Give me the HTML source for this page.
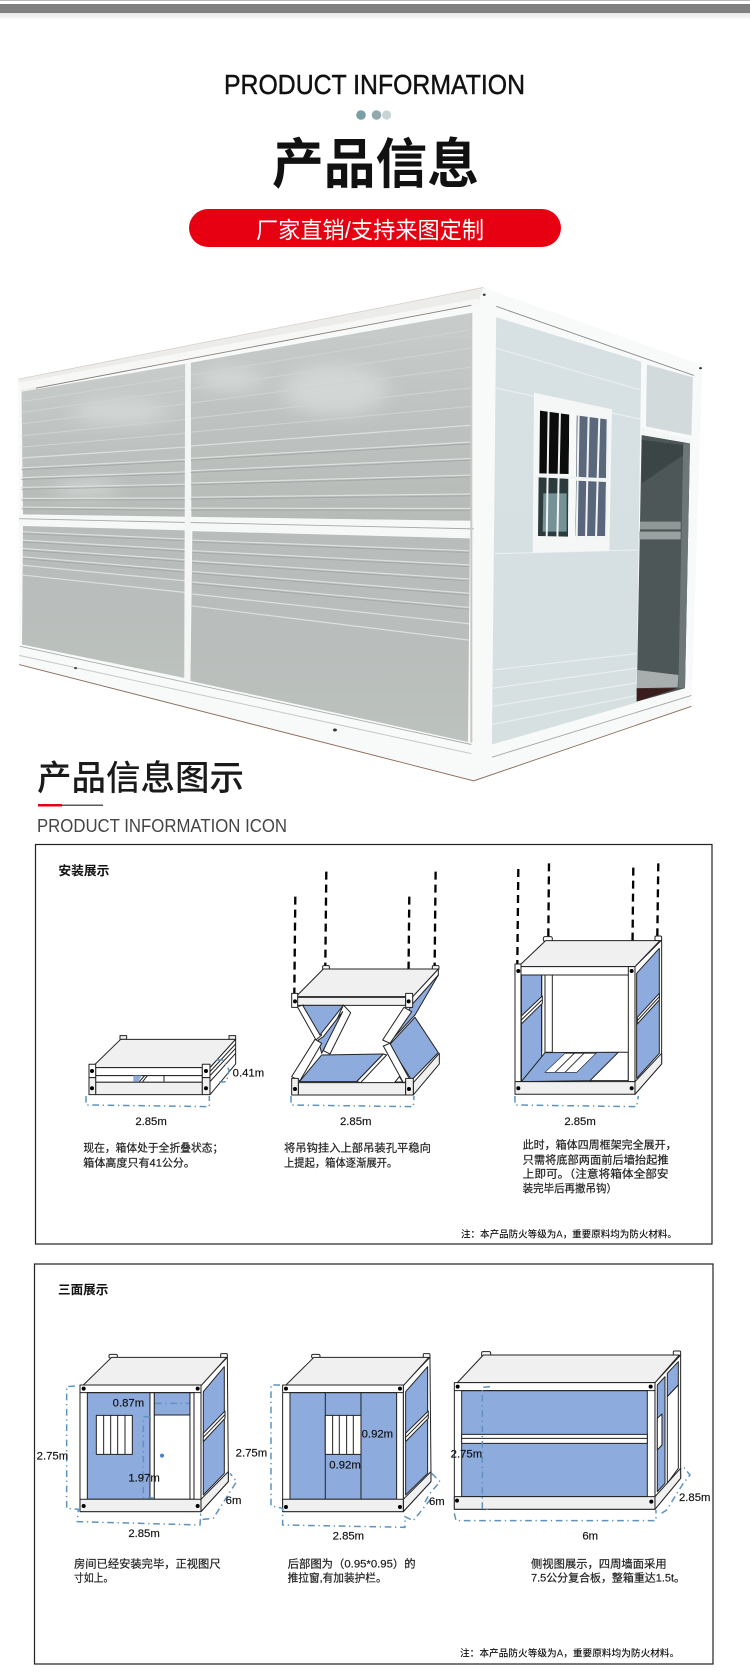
<!DOCTYPE html>
<html lang="zh">
<head>
<meta charset="utf-8">
<title>产品信息</title>
<style>
html,body{margin:0;padding:0;background:#fff}
svg{display:block}
text{font-family:"Liberation Sans","Noto Sans CJK SC",sans-serif;fill:#111}
.s{stroke:#222;stroke-width:3;stroke-linejoin:round}
.w{fill:#fff}.g{fill:#f0f0f0}.b{fill:#8eabdd}
.dim{fill:none;stroke:#5f93bd;stroke-width:4.5;stroke-dasharray:20 11 4 11}
.hang{fill:none;stroke:#000;stroke-width:7;stroke-dasharray:24 15}
.lb{font-size:34px;stroke:#111;stroke-width:.5px}
.cap{font-size:33px;fill:#222;stroke:#222;stroke-width:.6px}
.groove{fill:none;stroke:#dcdfdd;stroke-width:1.2;vector-effect:non-scaling-stroke}
.faint{fill:none;stroke:#d0d3d1;stroke-width:1;vector-effect:non-scaling-stroke}
.dark{fill:none;stroke:#a2a6a4;stroke-width:.8;vector-effect:non-scaling-stroke}
.groove2{fill:none;stroke:#eaf0f1;stroke-width:1.1;vector-effect:non-scaling-stroke}
</style>
</head>
<body>
<svg width="750" height="1675" viewBox="0 0 750 1675" xmlns="http://www.w3.org/2000/svg">
<defs>
<linearGradient id="sh" x1="0" y1="0" x2="0" y2="1"><stop offset="0" stop-color="#ccc"/><stop offset="1" stop-color="#fff"/></linearGradient>
<linearGradient id="pan" x1="0" y1="0" x2="0" y2="1"><stop offset="0" stop-color="#c8cccb"/><stop offset=".55" stop-color="#bdc1bf"/><stop offset="1" stop-color="#b7bbb8"/></linearGradient>
<linearGradient id="pan2" x1="0" y1="0" x2="0" y2="1"><stop offset="0" stop-color="#b8bcbb"/><stop offset=".55" stop-color="#b9bdbb"/><stop offset="1" stop-color="#bcc2bd"/></linearGradient>
<linearGradient id="rf" x1="0" y1="0" x2="0" y2="1"><stop offset="0" stop-color="#d7e0e3"/><stop offset="1" stop-color="#d6e0e1"/></linearGradient>
<filter id="bl"><feGaussianBlur stdDeviation="22"/></filter>
<clipPath id="upper"><polygon points="45,335 388,258 388,682 48,672"/><polygon points="398,255 985,118 985,690 400,680"/></clipPath>
</defs>

<rect x="0" y="0" width="750" height="1" fill="#b5b5b5"/>
<rect x="0" y="4" width="750" height="9" fill="#808080"/>
<rect x="0" y="13" width="750" height="7" fill="url(#sh)" opacity=".5"/>

<text x="224" y="94" font-size="28" textLength="301" lengthAdjust="spacingAndGlyphs" stroke="#111" stroke-width=".45">PRODUCT INFORMATION</text>
<circle cx="361" cy="115" r="4.8" fill="#7a9ea5"/>
<circle cx="376.5" cy="115" r="4.8" fill="#94a9ae"/>
<circle cx="386.6" cy="115" r="4.6" fill="#c8d5d6"/>
<text x="272" y="183" font-size="54" font-weight="700" textLength="207" lengthAdjust="spacingAndGlyphs">产品信息</text>
<rect x="189" y="209" width="372" height="38" rx="19" fill="#e60012"/>
<text x="256" y="238" font-size="23" style="fill:#fff" textLength="228" lengthAdjust="spacingAndGlyphs">厂家直销/支持来图定制</text>

<!-- building photo -->
<g transform="translate(0,270) scale(.4785,.3636)">
<polygon points="38,300 1010,48 1468,262 1445,1200 990,1405 40,1085" fill="#f8f9f9"/>
<polygon points="38,300 1010,48 1000,90 45,335" fill="#ecedeb"/>
<polygon points="38,310 1000,78 1000,96 45,330" fill="#f7f7f6"/>
<polyline points="75,325 985,97" fill="none" stroke="#85807c" stroke-width=".9" vector-effect="non-scaling-stroke"/>
<polyline points="38,300 1010,48" fill="none" stroke="#d8cfc8" stroke-width=".8" vector-effect="non-scaling-stroke"/>
<polygon points="45,335 388,258 388,682 48,672" fill="url(#pan)"/>
<polygon points="398,255 985,118 985,690 400,680" fill="url(#pan)"/>
<polygon points="48,704 388,716 386,1122 46,1030" fill="url(#pan2)"/>
<polygon points="402,718 982,738 978,1298 398,1130" fill="url(#pan2)"/>
<g clip-path="url(#upper)" filter="url(#bl)" fill="#dee2e0" opacity=".6">
<ellipse cx="700" cy="330" rx="110" ry="70"/><ellipse cx="250" cy="390" rx="100" ry="35"/><ellipse cx="480" cy="300" rx="70" ry="35"/><ellipse cx="180" cy="600" rx="70" ry="25"/>
</g>
<path class="faint" d="M398 289L985 164M398 327L985 215M398 366L985 267M398 408L985 324M398 446L985 375"/>
<path class="groove" d="M398 484L985 427M398 518L985 473M398 552L985 518M398 586L985 564M398 625L985 616M398 655L985 656"/>
<path class="dark" d="M398 523L985 478M398 557L985 523M398 591L985 569M398 630L985 621M398 660L985 661"/>
<path class="faint" d="M45 362L388 292M45 392L388 330M45 423L388 368M45 456L388 411M45 487L388 449"/>
<path class="groove" d="M45 517L388 487M45 544L388 521M45 571L388 555M45 598L388 589M45 628L388 627M45 652L388 656"/>
<path class="dark" d="M45 549L388 526M45 576L388 560M45 603L388 594M45 633L388 632M45 657L388 661"/>
<path class="groove" d="M402 743L980 772M402 772L980 811M402 800L980 850M402 829L980 889M402 858L980 928M402 891L980 973M402 924L980 1018"/>
<path class="dark" d="M402 748L980 777M402 777L980 816M402 805L980 855M402 834L980 894M402 863L980 933"/>
<path class="groove" d="M48 720L388 740M48 743L388 769M48 766L388 797M48 789L388 826M48 812L388 855M48 839L388 887"/>
<path class="dark" d="M48 725L388 745M48 748L388 774M48 771L388 802M48 794L388 831"/>
<polygon points="40,672 990,690 990,738 40,702" fill="#f6f7f7"/>
<polyline points="40,684 990,712" fill="none" stroke="#a6a8a7" stroke-width=".9" vector-effect="non-scaling-stroke"/>
<polygon points="387,258 399,255 398,1132 385,1125" fill="#f4f5f5"/>
<polyline points="985,118 985,1300" fill="none" stroke="#c9c9c4" stroke-width="2" vector-effect="non-scaling-stroke"/>
<polyline points="42,1035 985,1305" fill="none" stroke="#a9abab" stroke-width=".9" vector-effect="non-scaling-stroke"/>
<polyline points="40,1060 985,1330" fill="none" stroke="#c8c8c8" stroke-width="1" vector-effect="non-scaling-stroke"/>
<polyline points="40,1085 990,1405 1445,1200" fill="none" stroke="#8a6f5c" stroke-width=".9" vector-effect="non-scaling-stroke"/>
<polygon points="1037,130 1340,252 1330,1190 1028,1305" fill="url(#rf)"/>
<path class="groove2" d="M1037,215L1338,330M1037,325L1338,410M1034,780L1332,770M1030,1100L1332,1055M1030,1150L1332,1095M1028,1200L1332,1135M1028,1250L1332,1170"/>
<polyline points="1037,100 1450,290" fill="none" stroke="#8c8e8e" stroke-width=".9" vector-effect="non-scaling-stroke"/>
<polyline points="1028,1340 1445,1170" fill="none" stroke="#a5a7a7" stroke-width=".9" vector-effect="non-scaling-stroke"/>
<polygon points="1352,260 1448,295 1445,455 1350,430" fill="#d2dadc"/>
<circle cx="1012" cy="68" r="3" fill="#333"/>
<circle cx="1464" cy="270" r="3" fill="#333"/>
<circle cx="700" cy="1265" r="4" fill="#333"/>
<circle cx="158" cy="1095" r="3" fill="#444"/>
</g>
<g transform="translate(520,380) scale(.3333)">
<polygon points="42,38 276,88 268,512 38,518" fill="#f5f7f7"/>
<polygon points="60,92 148,104 146,282 58,280" fill="#0c0c0c"/>
<polygon points="56,292 145,296 144,470 54,468" fill="#2b3a3c"/>
<polygon points="70,340 140,340 140,455 68,455" fill="#8fb0b4" opacity=".75"/>
<polygon points="170,106 260,118 258,294 168,292" fill="#5b687c"/>
<polygon points="168,302 258,306 256,468 166,468" fill="#58657a"/>
<polygon points="148,96 170,100 166,480 144,480" fill="#f7f8f8"/>
<path d="M86,84L80,478M120,88L112,478M206,106L198,478M238,112L228,478M264,118L258,482M176,100L170,480" fill="none" stroke="#f2f4f4" stroke-width="6"/>
<path d="M55,287L262,300" fill="none" stroke="#f2f4f4" stroke-width="8"/>
<polygon points="365,165 510,190 495,925 350,965" fill="#4d5757"/>
<polygon points="365,180 490,195 490,225 365,310" fill="#3c4545"/>
<polygon points="360,425 482,425 482,448 360,448" fill="#8f9897"/>
<polygon points="358,455 482,455 482,478 358,478" fill="#9aa2a1"/>
<polygon points="490,190 510,190 495,925 475,925" fill="#6d7777"/>
<polygon points="352,870 475,885 473,922 350,925" fill="#a8aeae"/>
<polygon points="350,925 472,925 350,965" fill="#3b1d1d"/>
<polygon points="362,143 512,178 512,190 365,165" fill="#f4f6f6"/>
</g>

<text x="37" y="790" font-size="34.5" font-weight="500" textLength="207" lengthAdjust="spacingAndGlyphs" style="fill:#1a1a1a">产品信息图示</text>
<rect x="38" y="804" width="24" height="2.5" fill="#e60012"/>
<rect x="62" y="804.6" width="41" height="1.2" fill="#333"/>
<text x="37" y="832" font-size="18" textLength="250" lengthAdjust="spacingAndGlyphs" style="fill:#444">PRODUCT INFORMATION ICON</text>

<rect x="35.5" y="844.5" width="676.5" height="399.5" fill="#fff" stroke="#222" stroke-width="1.2"/>
<rect x="34.5" y="1264" width="678.5" height="400" fill="#fff" stroke="#222" stroke-width="1.2"/>

<!-- box 1: left -->
<g transform="translate(30,840) scale(.3333)">
<text x="85" y="105" font-size="38" font-weight="700" textLength="153" lengthAdjust="spacingAndGlyphs">安装展示</text>
<rect class="s g" x="270" y="587" width="20" height="11"/>
<rect class="s g" x="597" y="587" width="20" height="11"/>
<polygon class="s g" points="185,683 272,598 617,598 540,683"/>
<polygon class="s w" points="540,683 617,598 617,672 540,764"/>
<path class="s" fill="none" d="M540,707L617,625M540,725L617,640M540,695L617,612"/>
<rect class="s w" x="197" y="683" width="320" height="24"/>
<rect class="s w" x="197" y="707" width="320" height="20"/>
<rect class="s g" x="197" y="727" width="320" height="37"/>
<polygon class="b" points="310,707 335,707 325,725 310,725"/>
<path class="s" fill="none" d="M328,725L344,707M338,725L352,707M402,707V725"/>
<rect class="s w" x="177" y="673" width="20" height="40"/>
<rect class="s g" x="177" y="713" width="20" height="51"/>
<rect class="s w" x="517" y="673" width="23" height="40"/>
<rect class="s g" x="517" y="713" width="23" height="51"/>
<circle cx="186" cy="693" r="6" fill="#000"/><circle cx="186" cy="745" r="6" fill="#000"/>
<circle cx="528" cy="693" r="6" fill="#000"/><circle cx="528" cy="745" r="6" fill="#000"/>
<polyline class="dim" points="168,768 168,795 538,800 538,768"/>
<polyline class="dim" points="560,660 578,660 597,690 590,725 562,727"/>
<text class="lb" x="608" y="710">0.41m</text>
<text class="lb" x="316" y="855">2.85m</text>
<text class="cap" x="160" y="935" textLength="420" lengthAdjust="spacingAndGlyphs">现在，箱体处于全折叠状态；</text>
<text class="cap" x="160" y="979" textLength="335" lengthAdjust="spacingAndGlyphs">箱体高度只有41公分。</text>
<text class="lb" x="930" y="855">2.85m</text>
<text class="cap" x="762" y="935" textLength="441" lengthAdjust="spacingAndGlyphs">将吊钩挂入上部吊装孔平稳向</text>
<text class="cap" x="762" y="979" textLength="340" lengthAdjust="spacingAndGlyphs">上提起，箱体逐渐展开。</text>
<path class="hang" d="M796,170L793,465M889,95L886,378M1138,170L1135,465M1217,95L1214,378"/>
</g>

<!-- box 1: middle scissor -->
<g transform="translate(280,960) scale(.3333)">
<rect class="s w" x="128" y="17" width="20" height="12" rx="3"/>
<rect class="s w" x="457" y="17" width="20" height="12" rx="3"/>
<polygon class="s w" points="398,110 475,27 475,46 398,136"/>
<polygon class="s g" points="48,110 130,27 475,27 398,110"/>
<rect class="s g" x="52" y="112" width="325" height="24"/>
<polygon class="s w" points="52,140 70,135 125,225 108,240"/>
<polygon class="s b" points="68,136 190,136 120,225"/>
<polygon class="s w" points="190,135 212,158 150,282 130,272"/>
<polygon class="s b" points="188,155 130,230 115,240 125,280"/>
<polygon class="s w" points="105,238 125,250 60,362 35,350"/>
<polygon class="s b" points="125,285 310,282 230,365 58,365"/>
<polygon class="s w" points="310,282 320,285 242,368 230,365"/>
<rect class="s g" x="55" y="368" width="322" height="37"/>
<polygon class="s w" points="345,366 358,350 368,366"/>
<polygon class="s b" points="395,135 475,45 405,165 335,240"/>
<polygon class="s w" points="372,142 395,155 330,250 308,240"/>
<polygon class="s b" points="405,172 475,278 395,360 328,255"/>
<polygon class="s w" points="310,258 330,250 390,360 370,368"/>
<polygon class="s g" points="400,368 478,280 478,312 400,405"/>
<rect class="s w" x="35" y="100" width="18" height="42"/>
<rect class="s w" x="377" y="100" width="21" height="42"/>
<rect class="s g" x="35" y="355" width="20" height="50"/>
<rect class="s g" x="377" y="355" width="23" height="50"/>
<circle cx="45" cy="124" r="6" fill="#000"/><circle cx="386" cy="124" r="6" fill="#000"/>
<circle cx="45" cy="387" r="6" fill="#000"/><circle cx="387" cy="387" r="6" fill="#000"/>
<polyline class="dim" points="33,408 33,435 400,440 402,408"/>
</g>

<!-- box 1: right -->
<g transform="translate(380,840) scale(.3333)">
<path class="hang" d="M415,87L412,372M507,70L505,290M760,83L757,372M835,70L832,290"/>
<rect class="s w" x="490" y="290" width="27" height="14" rx="5"/>
<rect class="s w" x="825" y="288" width="20" height="14" rx="4"/>
<polygon class="s w" points="765,380 845,300 845,672 765,763"/>
<polygon class="s b" points="770,400 838,325 838,640 770,715"/>
<polygon class="s w" points="772,532 838,460 838,480 772,552"/>
<path class="s" fill="none" d="M772,542L838,470"/>
<polygon class="s g" points="765,725 845,640 845,672 765,763"/>
<polygon class="s g" points="415,380 497,302 840,302 765,380"/>
<rect class="s b" x="424" y="405" width="61" height="320" stroke="none"/>
<polygon class="w" points="424,405 424,725 400,725 400,405"/>
<rect class="s w" x="495" y="405" width="22" height="232"/>
<path class="s" fill="none" d="M485,405V635M424,405V725"/>
<polygon class="s w" points="424,528 487,468 487,490 424,552"/>
<path class="s" fill="none" d="M424,540L487,479"/>
<polygon class="s b" points="424,725 495,638 715,637 635,722"/>
<polygon class="w" points="495,697 555,640 648,640 590,697" stroke="#222" stroke-width="2"/>
<path d="M525,697L583,640M555,697L612,640" stroke="#333" stroke-width="3" fill="none"/>
<polygon class="s w" points="630,722 715,637 745,637 745,722"/>
<rect class="s w" x="405" y="380" width="360" height="25"/>
<rect class="s w" x="405" y="372" width="18" height="353"/>
<rect class="s w" x="745" y="380" width="20" height="345"/>
<rect class="s g" x="405" y="725" width="360" height="38"/>
<circle cx="415" cy="393" r="6" fill="#000"/><circle cx="755" cy="393" r="6" fill="#000"/>
<circle cx="415" cy="745" r="6" fill="#000"/><circle cx="755" cy="745" r="6" fill="#000"/>
<polyline class="dim" points="405,768 405,795 770,800 775,768"/>
<text class="lb" x="553" y="855">2.85m</text>
<text class="cap" x="428" y="926" textLength="462" lengthAdjust="spacingAndGlyphs">此时，箱体四周框架完全展开，</text>
<text class="cap" x="428" y="970" textLength="438" lengthAdjust="spacingAndGlyphs">只需将底部两面前后墙抬起推</text>
<text class="cap" x="428" y="1013" textLength="438" lengthAdjust="spacingAndGlyphs">上即可。（注意将箱体全部安</text>
<text class="cap" x="428" y="1056" textLength="283" lengthAdjust="spacingAndGlyphs">装完毕后再撤吊钩）</text>
<text x="243" y="1192" font-size="29" font-weight="500" textLength="648" lengthAdjust="spacingAndGlyphs">注：本产品防火等级为A，重要原料均为防火材料。</text>
</g>

<!-- box 2: A + B -->
<g transform="translate(30,1260) scale(.3333)">
<text x="84" y="102" font-size="38" font-weight="700" textLength="151" lengthAdjust="spacingAndGlyphs">三面展示</text>

<rect class="s w" x="237" y="283" width="25" height="11" rx="4"/>
<rect class="s w" x="572" y="281" width="20" height="12" rx="3"/>
<polygon class="s w" points="513,375 592,292 595,635 595,665 513,755"/>
<polygon class="s b" points="520,395 583,320 583,640 520,705"/>
<polygon class="s w" points="520,520 585,453 585,475 520,545"/>
<path class="s" fill="none" d="M520,532L585,464"/>
<polygon class="s g" points="513,718 595,635 595,665 513,755"/>
<polygon class="s g" points="160,375 245,292 590,292 515,375"/>
<rect class="s w" x="150" y="375" width="363" height="380"/>
<rect class="s b" x="172" y="398" width="188" height="320"/>
<rect class="s w" x="360" y="398" width="13" height="320"/>
<rect class="s b" x="373" y="398" width="107" height="67"/>
<rect class="s w" x="373" y="465" width="107" height="253"/>
<rect class="s w" x="480" y="398" width="12" height="320"/>
<path class="s" fill="none" d="M492,398V718"/>
<rect class="s g" x="150" y="718" width="363" height="37"/>
<path class="s" fill="none" d="M150,398H513"/>
<rect class="s w" x="199" y="466" width="108" height="117"/>
<path class="s" fill="none" d="M221,466V583M242,466V583M263,466V583M285,466V583"/>
<circle cx="396" cy="587" r="6" fill="#3e86d0"/>
<circle cx="161" cy="386" r="6" fill="#000"/><circle cx="503" cy="386" r="6" fill="#000"/>
<circle cx="161" cy="738" r="6" fill="#000"/><circle cx="503" cy="738" r="6" fill="#000"/>
<polyline class="dim" points="135,378 110,380 110,745 145,748 142,785 510,795 512,765 520,778 550,775 610,680 620,665 600,640"/>
<polyline class="dim" points="375,430 478,430"/>
<polyline class="dim" points="360,470 340,470 340,712 370,714"/>
<text class="lb" x="248" y="440">0.87m</text>
<text class="lb" x="20" y="598">2.75m</text>
<text class="lb" x="295" y="664">1.97m</text>
<text class="lb" x="587" y="732">6m</text>
<text class="lb" x="295" y="831">2.85m</text>
<text class="cap" x="132" y="922" textLength="440" lengthAdjust="spacingAndGlyphs">房间已经安装完毕，正视图尺</text>
<text class="cap" x="132" y="965" textLength="118" lengthAdjust="spacingAndGlyphs">寸如上。</text>

<rect class="s w" x="845" y="283" width="25" height="11" rx="4"/>
<rect class="s w" x="1180" y="281" width="20" height="12" rx="3"/>
<polygon class="s w" points="1120,375 1200,292 1203,635 1203,665 1120,755"/>
<polygon class="s b" points="1127,395 1193,320 1193,640 1127,705"/>
<polygon class="s w" points="1127,520 1195,453 1195,475 1127,545"/>
<path class="s" fill="none" d="M1127,532L1195,464"/>
<polygon class="s g" points="1120,718 1203,635 1203,665 1120,755"/>
<polygon class="s g" points="768,375 852,292 1197,292 1122,375"/>
<rect class="s w" x="758" y="375" width="362" height="380"/>
<rect class="s b" x="780" y="398" width="320" height="320"/>
<path class="s" fill="none" d="M886,398V718M993,398V718M758,398H1120"/>
<rect class="s g" x="758" y="718" width="362" height="37"/>
<rect class="s w" x="886" y="466" width="107" height="117"/>
<path class="s" fill="none" d="M908,466V583M928,466V583M950,466V583M970,466V583"/>
<circle cx="768" cy="386" r="6" fill="#000"/><circle cx="1110" cy="386" r="6" fill="#000"/>
<circle cx="768" cy="741" r="6" fill="#000"/><circle cx="1110" cy="741" r="6" fill="#000"/>
<polyline class="dim" points="750,375 723,375 723,738 758,745 758,795 1125,802 1125,770 1150,782 1200,720"/>
<text class="lb" x="617" y="590">2.75m</text>
<text class="lb" x="995" y="532">0.92m</text>
<text class="lb" x="898" y="626">0.92m</text>
<text class="lb" x="908" y="838">2.85m</text>
<text class="cap" x="773" y="922" textLength="384" lengthAdjust="spacingAndGlyphs">后部图为（0.95*0.95）的</text>
<text class="cap" x="773" y="965" textLength="297" lengthAdjust="spacingAndGlyphs">推拉窗,有加装护栏。</text>
</g>

<!-- box 2: C -->
<g transform="translate(420,1260) scale(.3333)">
<rect class="s w" x="185" y="275" width="27" height="16" rx="4"/>
<rect class="s w" x="760" y="273" width="22" height="14" rx="3"/>
<polyline class="dim" points="35,640 60,665 30,700 10,735"/>
<text class="lb" x="27" y="735">6m</text>
<polygon class="s w" points="705,368 782,285 782,655 705,748"/>
<polygon class="s b" points="712,375 735,350 735,670 712,695"/>
<polygon class="s b" points="742,340 775,305 775,375 742,410"/>
<polygon class="s w" points="742,410 775,375 775,625 742,670"/>
<polygon class="s w" points="712,475 726,462 726,555 712,570"/>
<polygon class="s g" points="705,710 782,625 782,655 705,748"/>
<polygon class="s g" points="112,368 190,285 778,285 705,368"/>
<rect class="s w" x="103" y="368" width="602" height="380"/>
<rect class="s b" x="125" y="392" width="557" height="318"/>
<rect class="s w" x="125" y="523" width="557" height="27"/>
<path class="s" fill="none" d="M125,535H682M103,392H705"/>
<rect class="s g" x="103" y="710" width="602" height="38"/>
<circle cx="113" cy="380" r="6" fill="#000"/><circle cx="692" cy="380" r="6" fill="#000"/>
<circle cx="111" cy="722" r="6" fill="#000"/><circle cx="694" cy="725" r="6" fill="#000"/>
<polyline class="dim" points="210,380 187,382 187,745 215,750"/>
<polyline class="dim" points="103,760 108,782 708,782 708,750"/>
<polyline class="dim" points="725,760 740,750 790,670 810,645 790,620"/>
<text class="lb" x="92" y="592">2.75m</text>
<text class="lb" x="487" y="838">6m</text>
<text class="lb" x="777" y="723">2.85m</text>
<text class="cap" x="333" y="922" textLength="407" lengthAdjust="spacingAndGlyphs">侧视图展示，四周墙面采用</text>
<text class="cap" x="333" y="965" textLength="462" lengthAdjust="spacingAndGlyphs">7.5公分复合板，整箱重达1.5t。</text>
<text x="120" y="1190" font-size="29" font-weight="500" textLength="658" lengthAdjust="spacingAndGlyphs">注：本产品防火等级为A，重要原料均为防火材料。</text>
</g>
</svg>
</body>
</html>
